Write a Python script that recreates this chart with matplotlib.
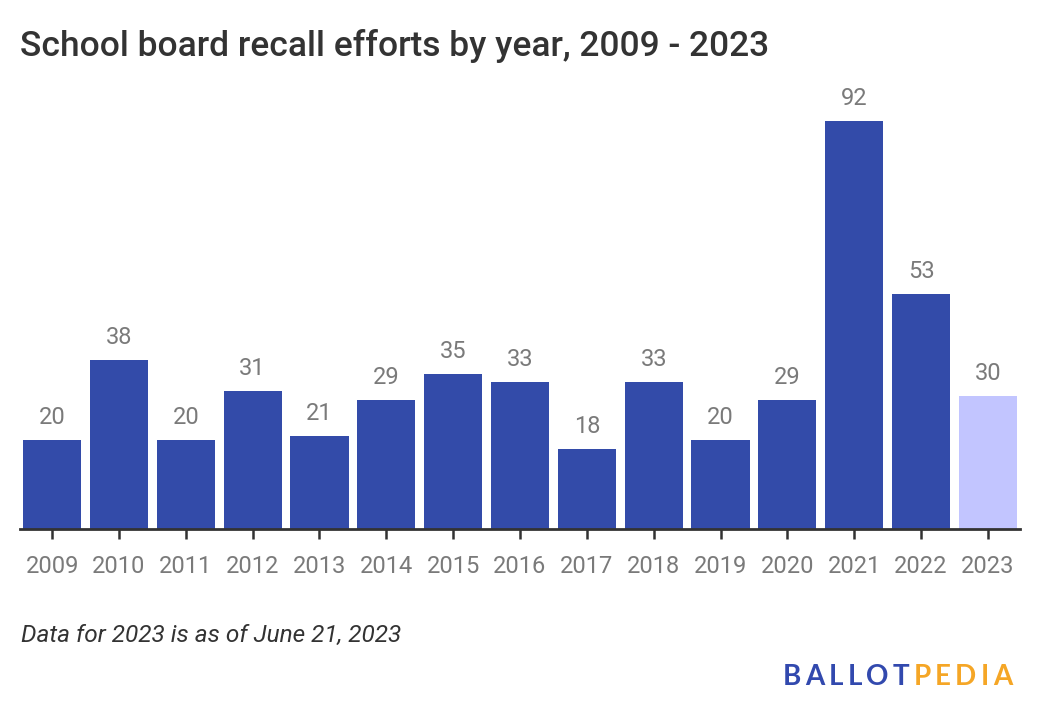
import matplotlib
matplotlib.use("Agg")
import matplotlib.pyplot as plt

years = ["2009", "2010", "2011", "2012", "2013", "2014", "2015", "2016",
         "2017", "2018", "2019", "2020", "2021", "2022", "2023"]
values = [20, 38, 20, 31, 21, 29, 35, 33, 18, 33, 20, 29, 92, 53, 30]

DARK = "#334BA9"
LIGHT = "#C2C5FF"
colors = [DARK] * (len(years) - 1) + [LIGHT]

W, H = 1040, 720
fig = plt.figure(figsize=(W / 100, H / 100), dpi=100)
ax = fig.add_axes([20 / W, 1 - 529 / H, 1000 / W, (529 - 85) / H])

x = list(range(len(years)))
ax.bar(x, values, width=0.87, color=colors, zorder=2)
ax.set_xlim(-0.48, len(years) - 0.52)
ax.set_ylim(0, 100)

for xi, v in zip(x, values):
    ax.annotate(str(v), (xi, v), xytext=(0, 16), textcoords="offset pixels",
                ha="center", va="baseline", fontsize=17, color="#7a7a7a",
                family="Roboto")

for s in ["top", "right", "left"]:
    ax.spines[s].set_visible(False)
ax.spines["bottom"].set_color("#333333")
ax.spines["bottom"].set_linewidth(2)
ax.spines["bottom"].set_zorder(3)
ax.set_yticks([])
ax.set_xticks(x)
ax.set_xticklabels(years, family="Roboto", fontsize=17, color="#7a7a7a")
ax.tick_params(axis="x", direction="out", length=7.5, width=1.8,
               color="#333333", pad=11)

fig.text(20 / W, 1 - 56 / H, "School board recall efforts by year, 2009 - 2023",
         family="Roboto", fontweight="medium", fontsize=25.5, color="#333333",
         va="baseline", ha="left")

fig.text(21 / W, 1 - 642 / H, "Data for 2023 is as of June 21, 2023",
         family="Roboto", style="italic", fontsize=17.6, color="#333333",
         va="baseline", ha="left")

# Logo with letter spacing
fig.canvas.draw()
renderer = fig.canvas.get_renderer()
logo = [("BALLOT", "#3249AE"), ("PEDIA", "#F5A626")]
xpos = 783
spacing = 4.2
for word, col in logo:
    for ch in word:
        t = fig.text(xpos / W, 1 - 685 / H, ch, family="Lato", fontweight="bold",
                     fontsize=20, color=col, va="baseline", ha="left")
        bb = t.get_window_extent(renderer)
        xpos += bb.width + spacing

fig.savefig("out.png", dpi=100)
